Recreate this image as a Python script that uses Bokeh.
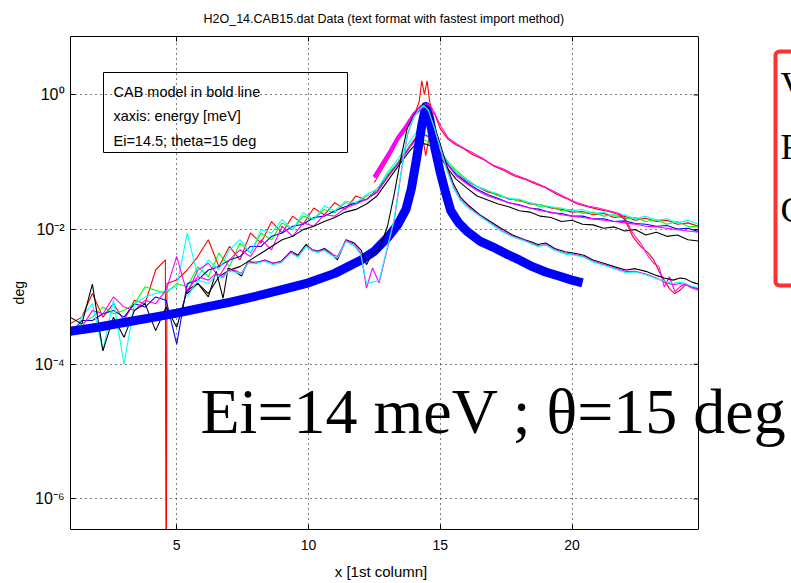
import numpy as np
from bokeh.plotting import figure
from bokeh.models import (Range1d, LinearAxis, FixedTicker, CustomJSTickFormatter,
                          Label, BoxAnnotation, Span, Title)
from bokeh.embed import file_html
from bokeh.resources import INLINE

# ---------------- data (given as log10 of the y value) ----------
X_TICKS = [5, 10, 15, 20]
Y_TICKS = [1e-6, 1e-4, 1e-2, 1.0]
XMIN, XMAX = 0.97, 24.8            # axes box limits (x)
YLOG_MIN, YLOG_MAX = -6.454, 0.868  # axes box limits (log10 y)

# group A (six noisy measured curves, full energy range)
xa = [0.95, 1.4, 1.8, 2.2, 2.6, 3.0, 3.4, 3.8, 4.2, 4.6, 5.0, 5.4, 5.8, 6.2, 6.6, 7.0, 7.4, 7.8,
      8.2, 8.6, 9.0, 9.4, 9.8, 10.2, 10.6, 11.0, 11.4, 11.8, 12.2, 12.6, 13.0, 13.4, 13.8, 14.1,
      14.3, 14.45, 14.6, 14.8, 15.0, 15.3, 15.6, 16.0, 16.4, 16.8, 17.2, 17.6, 18.0, 18.4, 18.8,
      19.2, 19.6, 20.0, 20.4, 20.8, 21.2, 21.6, 22.0, 22.4, 22.8, 23.2, 23.6, 24.0, 24.4, 24.8]
xa_red = [0.95, 1.4, 1.8, 2.2, 2.6, 3.0, 3.4, 3.8, 4.2, 4.57, 4.6, 4.63, 5.0, 5.4, 5.8, 6.2, 6.6,
          7.0, 7.4, 7.8, 8.2, 8.6, 9.0, 9.4, 9.8, 10.2, 10.6, 11.0, 11.4, 11.8, 12.2, 12.6, 13.0,
          13.4, 13.8, 14.1, 14.3, 14.45, 14.6, 14.8, 15.0, 15.3, 15.6, 16.0, 16.4, 16.8, 17.2,
          17.6, 18.0, 18.4, 18.8, 19.2, 19.6, 20.0, 20.4, 20.8, 21.2, 21.6, 22.0, 22.4, 22.8,
          23.2, 23.6, 24.0, 24.4, 24.8]
red_a = [-3.40, -3.30, -2.95, -3.30, -3.10, -3.35, -3.05, -3.10, -2.60, -2.45, -8.0, -2.80,
         -2.75, -2.60, -2.40, -2.15, -2.55, -2.25, -2.45, -2.05, -2.20, -1.88, -2.05, -1.80,
         -1.92, -1.68, -1.78, -1.60, -1.70, -1.50, -1.56, -1.40, -1.20, -1.00, -0.78, -0.62,
         -0.55, -0.90, -0.58, -0.70, -0.84, -1.00, -1.15, -1.28, -1.36, -1.44, -1.48, -1.55,
         -1.56, -1.62, -1.63, -1.68, -1.70, -1.74, -1.73, -1.78, -1.76, -1.82, -1.80, -1.86,
         -1.83, -1.88, -1.86, -1.92, -1.90, -1.95]
green_a = [-3.50, -3.40, -3.30, -3.15, -3.25, -3.20, -3.10, -2.85, -2.90, -2.95, -2.80, -2.85,
           -2.55, -2.70, -2.35, -2.55, -2.20, -2.35, -2.05, -2.15, -1.90, -2.00, -1.80, -1.85,
           -1.70, -1.75, -1.60, -1.62, -1.50, -1.45, -1.18, -1.00, -0.78, -0.66, -0.66, -0.68,
           -0.68, -0.75, -0.88, -1.00, -1.12, -1.25, -1.36, -1.42, -1.50, -1.53, -1.58, -1.60,
           -1.66, -1.66, -1.72, -1.70, -1.76, -1.74, -1.80, -1.78, -1.84, -1.82, -1.88, -1.85,
           -1.92, -1.88, -1.95, -1.96]
blue_a = [-3.55, -3.35, -3.35, -3.25, -3.20, -3.30, -3.10, -3.15, -3.00, -3.05, -3.70, -2.80,
          -2.75, -2.60, -2.55, -2.45, -2.40, -2.25, -2.25, -2.10, -2.05, -1.95, -1.92, -1.82,
          -1.80, -1.72, -1.66, -1.60, -1.55, -1.44, -1.22, -1.02, -0.80, -0.64, -0.60, -0.60,
          -0.63, -0.73, -0.86, -1.04, -1.18, -1.30, -1.40, -1.48, -1.54, -1.60, -1.63, -1.68,
          -1.70, -1.75, -1.76, -1.80, -1.80, -1.84, -1.84, -1.88, -1.87, -1.91, -1.92, -1.95,
          -1.94, -1.99, -1.98, -2.03]
cyan_a = [-3.60, -3.30, -3.10, -3.80, -3.05, -4.00, -3.10, -3.00, -2.95, -2.90, -2.85, -2.05,
          -2.70, -2.45, -2.60, -2.30, -2.15, -2.35, -2.00, -2.05, -1.85, -2.00, -1.75, -1.85,
          -1.65, -1.72, -1.58, -1.60, -1.48, -1.40, -1.15, -0.95, -0.72, -0.55, -0.45, -0.48,
          -0.52, -0.66, -0.82, -1.00, -1.15, -1.26, -1.36, -1.42, -1.47, -1.54, -1.55, -1.60,
          -1.63, -1.66, -1.68, -1.72, -1.70, -1.76, -1.74, -1.80, -1.78, -1.84, -1.80, -1.86,
          -1.84, -1.90, -1.86, -1.92]
magenta_a = [-3.45, -3.45, -3.20, -3.25, -3.00, -3.15, -3.20, -3.05, -3.10, -2.90, -2.40, -2.95,
             -2.60, -2.50, -2.70, -2.45, -2.30, -2.40, -2.15, -2.30, -1.95, -2.10, -1.90, -1.95,
             -1.78, -1.80, -1.68, -1.62, -1.55, -1.45, -1.22, -1.02, -0.80, -0.65, -0.60, -0.60,
             -0.64, -0.74, -0.88, -1.05, -1.20, -1.32, -1.42, -1.50, -1.55, -1.60, -1.64, -1.68,
             -1.72, -1.74, -1.78, -1.80, -1.82, -1.84, -1.86, -1.88, -1.90, -1.92, -1.95, -1.96,
             -1.98, -2.00, -2.02, -2.04]
black_a = [-3.30, -3.40, -2.81, -3.80, -3.30, -3.60, -3.20, -3.10, -3.50, -3.15, -3.45, -2.90,
           -2.80, -2.95, -2.70, -2.60, -2.55, -2.45, -2.35, -2.25, -2.15, -2.10, -2.00, -1.95,
           -1.88, -1.82, -1.74, -1.70, -1.62, -1.50, -1.28, -1.06, -0.85, -0.72, -0.72, -0.73,
           -0.75, -0.80, -0.92, -1.10, -1.25, -1.38, -1.50, -1.56, -1.62, -1.66, -1.72, -1.74,
           -1.80, -1.82, -1.88, -1.86, -1.92, -1.93, -1.98, -1.96, -2.02, -2.00, -2.08, -2.04,
           -2.10, -2.08, -2.15, -2.17]

# high curves (red, magenta) starting near the elastic line
xh = [12.5, 12.8, 13.1, 13.4, 13.7, 14.0, 14.2, 14.3, 14.4, 14.5, 14.6, 14.7, 14.8, 15.0, 15.3,
      15.6, 15.9, 16.2, 16.6, 17.0, 17.4, 17.8, 18.2, 18.6, 19.0, 19.4, 19.8, 20.2, 20.6, 21.0,
      21.4, 21.8, 22.0, 22.3, 22.6, 22.9, 23.1, 23.3, 23.5, 23.7, 23.9, 24.1, 24.3, 24.5, 24.8]
red_h = [-1.30, -1.10, -0.90, -0.68, -0.52, -0.32, -0.10, 0.21, 0.01, 0.21, -0.10, -0.25, -0.30,
         -0.50, -0.66, -0.74, -0.80, -0.88, -0.95, -1.05, -1.12, -1.20, -1.25, -1.32, -1.38,
         -1.47, -1.54, -1.62, -1.66, -1.70, -1.73, -1.78, -1.85, -2.10, -2.25, -2.35, -2.45,
         -2.62, -2.75, -2.88, -2.95, -2.90, -2.82, -2.85, -2.88]
magenta_h = [-1.23, -1.05, -0.85, -0.64, -0.48, -0.30, -0.22, -0.18, -0.14, -0.13, -0.16, -0.20,
             -0.28, -0.45, -0.64, -0.72, -0.79, -0.85, -0.94, -1.04, -1.10, -1.18, -1.24, -1.30,
             -1.37, -1.45, -1.53, -1.60, -1.65, -1.68, -1.72, -1.76, -1.82, -2.05, -2.20, -2.40,
             -2.50, -2.55, -2.85, -2.70, -2.92, -2.85, -2.80, -2.86, -2.90]
xh_bold = [12.5, 12.8, 13.1, 13.4, 13.7, 14.0, 14.2, 14.35]
magenta_bold = [-1.22, -1.03, -0.84, -0.63, -0.47, -0.29, -0.21, -0.16]

# group B (black, magenta, cyan) lower curves
xb = [5.4, 5.8, 6.2, 6.5, 6.76, 6.95, 7.2, 7.46, 7.71, 8.0, 8.34, 8.65, 8.97, 9.34, 9.6, 9.91,
      10.15, 10.35, 10.6, 10.86, 11.1, 11.42, 11.74, 11.99, 12.2, 12.43, 12.68, 13.0, 13.25, 13.5,
      13.75, 14.0, 14.2, 14.37, 14.55, 14.75, 15.0, 15.25, 15.5, 15.77, 16.1, 16.5, 16.9, 17.3,
      17.75, 18.2, 18.45, 18.7, 19.0, 19.35, 19.73, 20.1, 20.45, 20.8, 21.2, 21.6, 22.04, 22.4,
      22.8, 23.2, 23.5, 23.84, 24.1, 24.3, 24.55, 24.8]
black_b = [-2.95, -2.80, -3.00, -2.62, -3.02, -2.57, -2.62, -2.69, -2.47, -2.50, -2.45, -2.50,
           -2.47, -2.32, -2.38, -2.22, -2.30, -2.32, -2.28, -2.35, -2.45, -2.15, -2.20, -2.30,
           -2.52, -2.35, -2.30, -1.95, -1.48, -0.95, -0.49, -0.30, -0.20, -0.14, -0.20, -0.42,
           -0.73, -1.05, -1.32, -1.52, -1.65, -1.78, -1.88, -1.98, -2.08, -2.15, -2.18, -2.22,
           -2.20, -2.28, -2.33, -2.35, -2.38, -2.45, -2.50, -2.55, -2.60, -2.58, -2.62, -2.68,
           -2.72, -2.75, -2.72, -2.73, -2.78, -2.81]
magenta_b = [-2.90, -2.70, -2.75, -2.65, -2.70, -2.60, -2.60, -2.65, -2.48, -2.48, -2.46, -2.50,
             -2.48, -2.33, -2.40, -2.24, -2.30, -2.33, -2.30, -2.36, -2.40, -2.16, -2.22, -2.35,
             -2.87, -2.57, -2.79, -2.27, -1.88, -1.20, -0.60, -0.32, -0.20, -0.15, -0.22, -0.45,
             -0.78, -1.10, -1.36, -1.55, -1.67, -1.79, -1.90, -2.00, -2.10, -2.16, -2.20, -2.24,
             -2.22, -2.30, -2.35, -2.37, -2.40, -2.47, -2.52, -2.57, -2.62, -2.62, -2.66, -2.72,
             -2.78, -2.82, -2.80, -2.82, -2.85, -2.88]
cyan_b = [-3.00, -2.75, -2.80, -2.68, -2.72, -2.62, -2.63, -2.66, -2.50, -2.50, -2.47, -2.52,
          -2.49, -2.35, -2.41, -2.25, -2.32, -2.34, -2.31, -2.38, -2.42, -2.18, -2.24, -2.38,
          -2.80, -2.78, -2.76, -2.25, -1.85, -1.18, -0.58, -0.33, -0.21, -0.16, -0.23, -0.46,
          -0.79, -1.12, -1.38, -1.57, -1.69, -1.80, -1.91, -2.02, -2.11, -2.17, -2.21, -2.25,
          -2.23, -2.31, -2.36, -2.38, -2.41, -2.48, -2.53, -2.58, -2.64, -2.63, -2.67, -2.73,
          -2.76, -2.80, -2.78, -2.80, -2.84, -2.86]

# CAB model (bold blue line)
xm = [0.95, 2.0, 3.0, 4.0, 5.0, 6.0, 7.0, 8.0, 9.0, 10.0, 11.0, 12.0, 12.5, 13.0, 13.4, 13.7,
      13.9, 14.1, 14.3, 14.45, 14.6, 14.8, 15.0, 15.2, 15.4, 15.7, 16.0, 16.5, 17.0, 17.5, 18.0,
      18.5, 19.0, 19.5, 20.0, 20.4]
model = [-3.51, -3.45, -3.38, -3.31, -3.24, -3.16, -3.08, -2.99, -2.89, -2.79, -2.65, -2.45,
         -2.32, -2.12, -1.92, -1.70, -1.40, -0.95, -0.45, -0.17, -0.35, -0.80, -1.15, -1.45,
         -1.72, -1.90, -2.02, -2.17, -2.26, -2.36, -2.45, -2.55, -2.63, -2.69, -2.75, -2.79]

TITLE = "H2O_14.CAB15.dat Data (text format with fastest import method)"
XLABEL = "x [1st column]"
YLABEL = "deg"
NOTE_LINES = ["CAB model in bold line", "xaxis: energy [meV]", "Ei=14.5; theta=15 deg"]
BIG_TEXT = "Ei=14 meV ; \u03b8=15 deg"
SIDE_LETTERS = ["V", "F", "C"]


def pw(v):
    return [10.0 ** t for t in v]


# ---------------- figure -------------
W, H = 791, 583
FL, FT, FB = 70, 36, 54
BOX_W = 628                     # width of the axes box in px
FRAME_W = W - FL
FRAME_H = H - FT - FB
PXU = BOX_W / (XMAX - XMIN)     # px per x unit
SANS = "Liberation Sans"
SERIF = "Liberation Serif"
NBSP = "\u00a0"

p = figure(width=W, height=H, output_backend="svg", toolbar_location=None,
           y_axis_type="log", x_range=Range1d(XMIN, XMIN + FRAME_W / PXU),
           y_range=Range1d(10 ** YLOG_MIN, 10 ** YLOG_MAX),
           min_border_left=FL, min_border_right=0, min_border_top=FT, min_border_bottom=FB)
p.background_fill_color = "white"
p.border_fill_color = "white"
p.outline_line_color = None

empty = CustomJSTickFormatter(code="return ''")
sup_fmt = CustomJSTickFormatter(code="""
const e = Math.round(Math.log10(tick));
const m = {'-':'\u207b','0':'\u2070','1':'\u00b9','2':'\u00b2','3':'\u00b3','4':'\u2074',
           '5':'\u2075','6':'\u2076','7':'\u2077','8':'\u2078','9':'\u2079'};
let s = '';
for (const c of String(e)) { s += m[c]; }
return '10' + s;
""")

xa_ax = p.xaxis[0]
xa_ax.ticker = FixedTicker(ticks=X_TICKS, minor_ticks=[])
xa_ax.bounds = (XMIN, XMAX)
ya_ax = p.yaxis[0]
ya_ax.ticker = FixedTicker(ticks=Y_TICKS, minor_ticks=[])
ya_ax.formatter = sup_fmt

for ax in (xa_ax, ya_ax):
    ax.major_tick_in = 5
    ax.major_tick_out = 0
    ax.minor_tick_line_color = None
    ax.axis_line_color = "black"
    ax.major_tick_line_color = "black"
    ax.major_label_text_font = SANS
    ax.major_label_text_color = "black"
    ax.axis_label_text_font = SANS
    ax.axis_label_text_font_style = "normal"
    ax.axis_label_text_color = "black"
xa_ax.major_label_text_font_size = "14px"
xa_ax.major_label_standoff = 10
# the axis label is centred on the (wider) frame: pad it so the visible text sits under the box
xa_ax.axis_label = XLABEL + NBSP * 24
xa_ax.axis_label_text_font_size = "15px"
xa_ax.axis_label_standoff = 10
ya_ax.major_label_text_font_size = "16px"
ya_ax.major_label_standoff = 6
ya_ax.axis_label = YLABEL + NBSP * 5
ya_ax.axis_label_text_font_size = "14px"
ya_ax.axis_label_standoff = 5

top_ax = LinearAxis(ticker=FixedTicker(ticks=X_TICKS, minor_ticks=[]), formatter=empty,
                    bounds=(XMIN, XMAX), major_tick_in=5, major_tick_out=0,
                    minor_tick_line_color=None, major_label_standoff=0,
                    major_label_text_font_size="1px", axis_line_color="black")
p.add_layout(top_ax, "above")
p.add_layout(Title(text=TITLE, align="left", offset=133, vertical_align="top", standoff=18,
                   text_font=SANS, text_font_size="12.5px", text_font_style="normal",
                   text_color="black"), "above")

# right edge of the axes box with inward ticks
p.add_layout(Span(location=XMAX, dimension="height", line_color="black", line_width=1))
p.segment(x0=[XMAX - 5 / PXU] * len(Y_TICKS), x1=[XMAX] * len(Y_TICKS), y0=Y_TICKS, y1=Y_TICKS,
          line_color="black", line_width=1)

for g in (p.xgrid[0], p.ygrid[0]):
    g.grid_line_color = "black"
    g.grid_line_dash = "1 4"
    g.grid_line_width = 1
p.xgrid[0].ticker = FixedTicker(ticks=X_TICKS, minor_ticks=[])
p.ygrid[0].ticker = FixedTicker(ticks=Y_TICKS, minor_ticks=[])
p.ygrid[0].cross_bounds = (XMIN, XMAX)

# ---------------- curves -------------
LW = 1.1
p.line(xa_red, pw(red_a), color="#ff0000", line_width=LW)
p.line(xa, pw(green_a), color="#00ff00", line_width=LW)
p.line(xa, pw(blue_a), color="#0000ff", line_width=LW)
p.line(xa, pw(cyan_a), color="#00ffff", line_width=LW)
p.line(xa, pw(magenta_a), color="#ff00ff", line_width=LW)
p.line(xa, pw(black_a), color="#000000", line_width=LW)

p.line(xm, pw(model), color="#0000ff", line_width=9, line_join="round")

p.line(xh, pw(red_h), color="#ff0000", line_width=LW)
p.line(xh, pw(magenta_h), color="#ff00ff", line_width=LW)
p.line(xh_bold, pw(magenta_bold), color="#ff00ff", line_width=4)

p.line(xb, pw(black_b), color="#000000", line_width=LW)
p.line(xb, pw(magenta_b), color="#ff00ff", line_width=LW)
p.line(xb, pw(cyan_b), color="#00ffff", line_width=LW)


# ---------------- texts (screen units are relative to the frame: x from left, y from bottom) ---
def fx(X):  # canvas x -> frame screen x
    return X - FL


def fy(Y):  # canvas y (from top) -> frame screen y (from bottom)
    return (FT + FRAME_H) - Y


# note box
p.add_layout(BoxAnnotation(left=fx(103), right=fx(347), top=fy(72), bottom=fy(152),
                           left_units="screen", right_units="screen", top_units="screen",
                           bottom_units="screen", fill_alpha=0, line_color="black",
                           line_alpha=1, line_width=1))
for i, t in enumerate(NOTE_LINES):
    p.add_layout(Label(x=fx(113), y=fy(91 + 24.5 * i), x_units="screen", y_units="screen",
                       text=t, text_align="left", text_baseline="middle", text_font=SANS,
                       text_font_size="14.5px", text_color="black"))

# large overlay text
p.add_layout(Label(x=fx(200), y=fy(411), x_units="screen", y_units="screen", text=BIG_TEXT,
                   text_align="left", text_baseline="middle", text_font=SERIF,
                   text_font_size="64px", text_color="black"))

# red framed box at the right edge (cut off by the page)
p.add_layout(BoxAnnotation(left=fx(775), right=fx(830), top=fy(51), bottom=fy(285),
                           left_units="screen", right_units="screen", top_units="screen",
                           bottom_units="screen", fill_alpha=0, line_color="#ff3030",
                           line_alpha=1, line_width=4, border_radius=4))
for i, t in enumerate(SIDE_LETTERS):
    p.add_layout(Label(x=fx(780), y=fy(84 + 62.5 * i), x_units="screen", y_units="screen",
                       text=t, text_align="left", text_baseline="middle", text_font=SERIF,
                       text_font_size="36px", text_color="black"))

open("out.html", "w").write(file_html(p, INLINE))
